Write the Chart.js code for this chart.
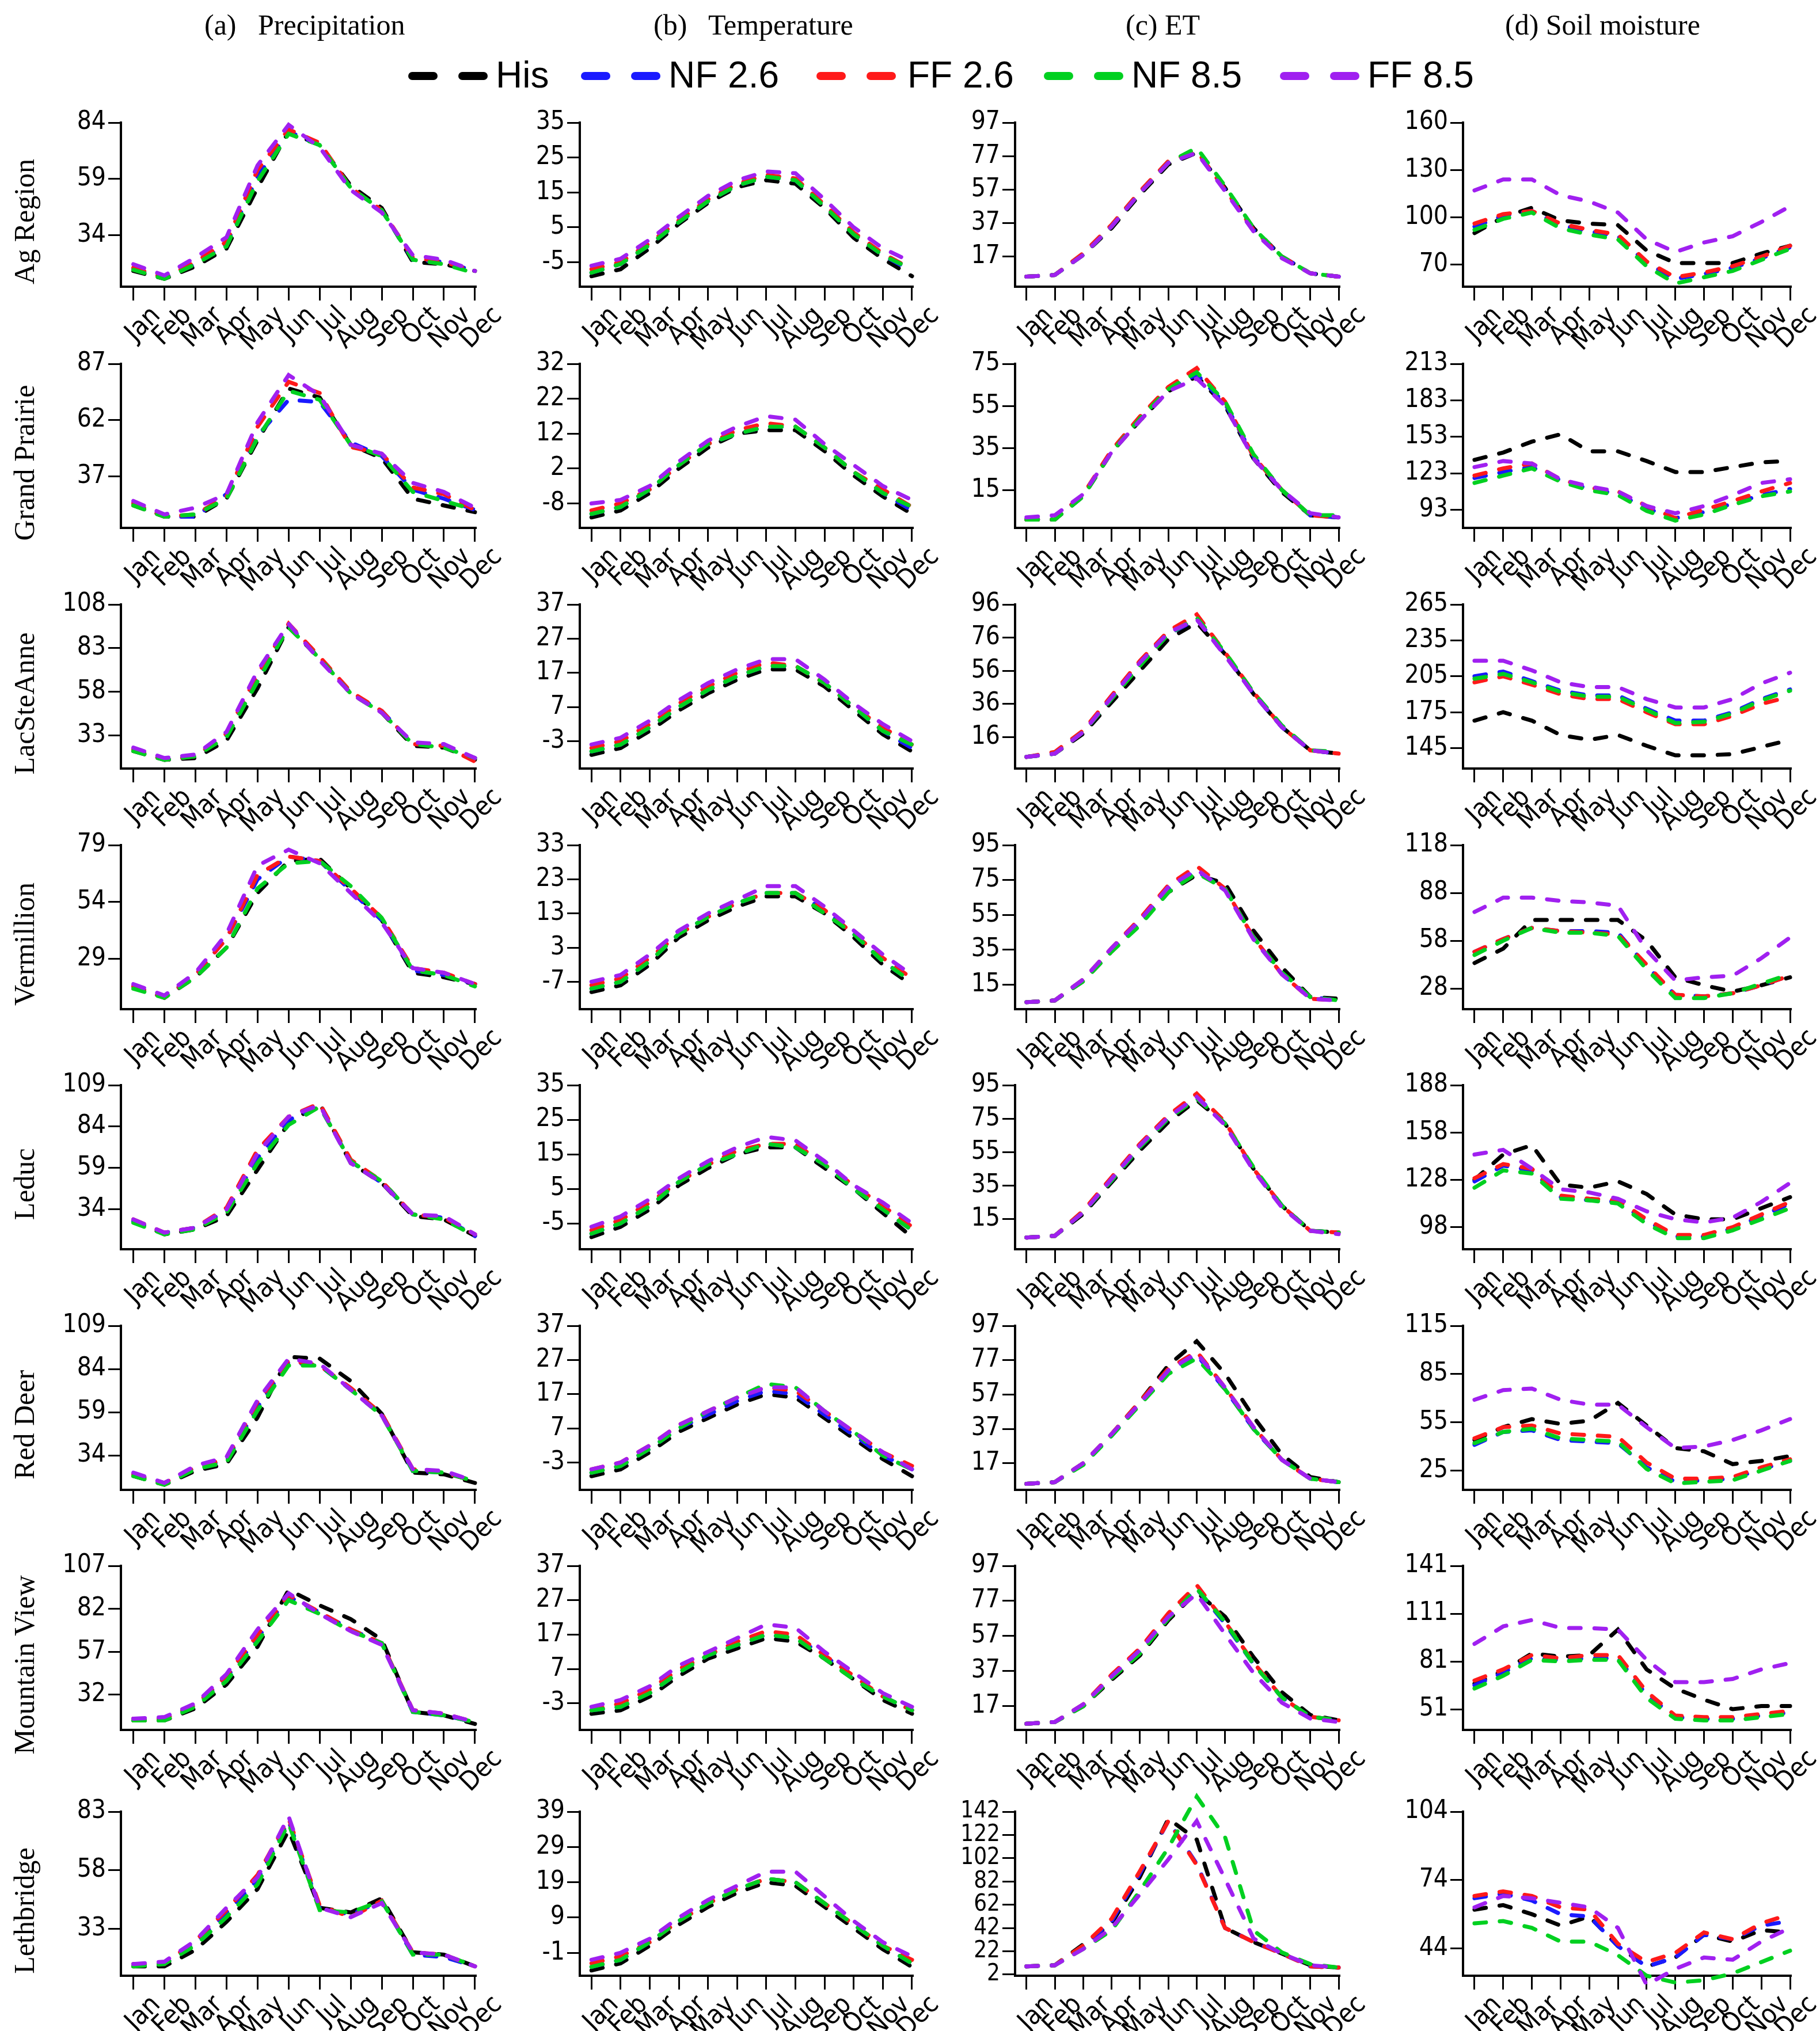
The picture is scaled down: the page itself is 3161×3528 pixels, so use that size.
<!DOCTYPE html>
<html lang="en">
<head>
<meta charset="UTF-8" />
<title>Monthly climate panels</title>
<script src="https://cdn.jsdelivr.net/npm/chart.js"></script>
<style>
  body { margin: 0; background: #fff; width: 3161px; height: 3528px; position: relative; overflow: hidden; }
  .panel { position: absolute; }
  .coltitle { position: absolute; top: 18px; font-family: "Liberation Serif", "DejaVu Serif", serif; font-size: 50px; line-height: 1; white-space: pre; }
  .rowlab { position: absolute; font-family: "Liberation Serif", "DejaVu Serif", serif; font-size: 50px; line-height: 1; white-space: nowrap; transform: translate(-50%, -50%) rotate(-90deg); }
  .legtext { position: absolute; top: 98px; font-family: "Liberation Sans", Arial, sans-serif; font-size: 64px; line-height: 1; white-space: pre; }
  .dash { position: absolute; top: 125px; width: 51px; height: 14px; border-radius: 7px; }
</style>
</head>
<body>
<script>
const months = ["Jan", "Feb", "Mar", "Apr", "May", "Jun", "Jul", "Aug", "Sep", "Oct", "Nov", "Dec"];
const regions = ["Ag Region", "Grand Prairie", "LacSteAnne", "Vermillion", "Leduc", "Red Deer", "Mountain View", "Lethbridge"];
const scenarios = ["His", "NF 2.6", "FF 2.6", "NF 8.5", "FF 8.5"];
const titles = ["(a)   Precipitation", "(b)   Temperature", "(c) ET", "(d) Soil moisture"];

// each panel: [His, NF 2.6, FF 2.6, NF 8.5, FF 8.5]
// (a) precipitation
const precipAg = [
  [18, 14.5, 20, 28, 55, 80, 74, 56, 46, 22, 21, 18],
  [19, 15, 21, 30, 60, 80, 74, 55, 45, 23, 22, 18],
  [19.5, 15, 22, 31, 63, 81, 75, 55, 45, 24, 22, 18],
  [18.5, 14.5, 21, 29, 58, 79, 74, 55, 45, 23, 21, 17],
  [21, 16, 24, 33, 65, 83, 73, 54, 44, 25, 23, 18]];
const precipGP = [
  [24, 19, 19, 27, 53, 76, 72, 51, 45, 27, 24, 21],
  [25, 19, 19, 29, 55, 71, 70, 52, 46, 31, 27, 22],
  [25, 19, 20, 28, 59, 79, 74, 50, 47, 32, 29, 22],
  [24, 19, 20, 27, 54, 75, 71, 51, 46, 30, 26, 22],
  [26, 20, 23, 29, 61, 82, 73, 51, 47, 34, 30, 23]];
const precipLSA = [
  [24, 19, 20, 30, 60, 95, 77, 57, 46, 27, 26, 19],
  [25, 19, 21, 33, 65, 96, 77, 57, 47, 28, 27, 20],
  [25, 19, 21, 34, 68, 97, 78, 58, 47, 28, 27, 18],
  [24, 19, 21, 32, 64, 95, 77, 57, 46, 28, 26, 20],
  [26, 20, 22, 35, 70, 97, 76, 57, 46, 29, 28, 20]];
const precipVer = [
  [17, 12, 21, 34, 58, 72, 73, 60, 46, 23, 21, 18],
  [17, 12, 22, 38, 64, 74, 72, 59, 46, 24, 22, 18],
  [17, 12, 22, 38, 66, 74, 72, 60, 47, 25, 23, 18],
  [16, 12, 21, 34, 60, 71, 72, 61, 47, 24, 22, 17],
  [18, 13, 23, 40, 70, 77, 71, 58, 45, 25, 23, 18]];
const precipLed = [
  [27, 19, 22, 30, 58, 86, 98, 62, 50, 30, 28, 18],
  [27, 20, 23, 33, 65, 88, 96, 63, 50, 31, 29, 18],
  [28, 20, 23, 35, 70, 90, 98, 64, 51, 31, 29, 19],
  [26, 19, 22, 32, 62, 85, 96, 63, 51, 31, 28, 18],
  [28, 20, 23, 34, 68, 90, 97, 62, 50, 31, 30, 19]];
const precipRD = [
  [22, 17, 25, 29, 56, 91, 90, 77, 58, 24, 23, 18],
  [23, 18, 27, 31, 62, 88, 86, 72, 58, 25, 24, 19],
  [23, 18, 27, 32, 65, 89, 86, 73, 58, 26, 24, 19],
  [22, 17, 26, 30, 60, 86, 86, 72, 57, 25, 24, 19],
  [24, 18, 28, 33, 66, 90, 87, 72, 57, 26, 25, 19]];
const precipMV = [
  [17, 17, 24, 38, 60, 93, 84, 76, 64, 22, 20, 15],
  [18, 18, 26, 42, 65, 89, 80, 70, 62, 22, 20, 16],
  [18, 18, 26, 43, 67, 90, 80, 70, 62, 23, 21, 16],
  [17, 17, 25, 40, 63, 87, 79, 69, 62, 22, 20, 16],
  [18, 19, 27, 44, 70, 91, 79, 69, 61, 23, 21, 16]];
const precipLeth = [
  [17, 17, 24, 36, 50, 75, 42, 40, 46, 23, 22, 17],
  [18, 18, 27, 40, 54, 79, 42, 39, 45, 22, 21, 17],
  [18, 18, 28, 41, 56, 80, 43, 38, 45, 23, 22, 17],
  [17, 18, 26, 38, 52, 78, 41, 40, 45, 22, 22, 17],
  [18, 19, 28, 42, 55, 81, 42, 38, 44, 23, 22, 17]];

// (b) temperature
const tempAg = [
  [-9, -7, -1, 6, 12, 16.5, 18.5, 17.5, 10.5, 2, -4, -9],
  [-8, -5.5, 0, 6.5, 12.5, 17, 19.5, 18.5, 11, 3, -3, -7.5],
  [-7, -5, 0.5, 7, 13, 17.5, 20, 19, 11.5, 3.5, -2.5, -7],
  [-8, -5.5, 0, 6.5, 12.5, 17, 19.5, 18.5, 11, 3, -3, -7],
  [-6, -4, 1.5, 8, 14, 18.5, 21, 20.5, 13, 5, -1, -5]];
const tempGP = [
  [-12, -10, -5, 2, 8, 12, 13, 13, 7, 0, -6, -11],
  [-11, -9, -4, 3, 9, 12, 14, 14, 8, 1, -5, -10],
  [-10, -8, -4, 3, 9, 13, 15, 14, 8, 1, -4, -9],
  [-11, -9, -4, 3, 9, 12, 14, 14, 8, 1, -5, -9],
  [-8, -7, -3, 4, 10, 14, 17, 16, 9, 3, -3, -7]];
const tempLSA = [
  [-7, -5, 0, 6, 11, 15, 18, 18, 13, 6, -1, -6],
  [-6, -4, 1, 7, 12, 16, 19, 19, 14, 7, 0, -5],
  [-5, -3, 2, 8, 13, 17, 20, 19, 14, 7, 1, -4],
  [-6, -4, 1, 7, 12, 16, 19, 19, 14, 7, 0, -4],
  [-4, -2, 3, 9, 14, 18, 21, 21, 15, 8, 2, -3]];
const tempVer = [
  [-10, -8, -2, 6, 11, 15, 18, 18, 13, 6, -2, -8],
  [-9, -7, -1, 7, 12, 16, 19, 19, 14, 7, -1, -7],
  [-8, -6, 0, 7, 12, 16, 19, 19, 14, 7, 0, -6],
  [-9, -7, -1, 7, 12, 16, 19, 19, 13, 7, -1, -7],
  [-7, -5, 1, 8, 13, 17, 21, 21, 15, 8, 1, -5]];
const tempLed = [
  [-9, -6, -1, 6, 11, 15, 17, 17, 11, 5, -2, -9],
  [-8, -5, 0, 7, 12, 15, 18, 17, 12, 5, -1, -7],
  [-7, -4, 1, 7, 12, 16, 18, 18, 12, 6, 0, -6],
  [-8, -5, 0, 7, 12, 15, 18, 17, 12, 5, -1, -7],
  [-6, -3, 2, 8, 13, 17, 20, 19, 13, 6, 1, -5]];
const tempRD = [
  [-7, -5, 0, 6, 10, 14, 17, 16, 10, 4, -2, -7],
  [-6, -4, 1, 7, 11, 15, 18, 17, 11, 5, -1, -5],
  [-5, -3, 2, 8, 12, 16, 19, 18, 12, 6, 0, -4],
  [-6, -4, 1, 7, 12, 16, 20, 19, 12, 6, -1, -5],
  [-5, -3, 2, 8, 12, 16, 19, 19, 12, 6, 0, -5]];
const tempMV = [
  [-6, -5, -1, 5, 10, 13, 16, 15, 10, 4, -2, -6],
  [-5, -4, 0, 6, 11, 14, 17, 16, 11, 4, -1, -5],
  [-5, -3, 1, 7, 11, 15, 18, 17, 11, 5, -1, -5],
  [-5, -4, 0, 6, 11, 14, 17, 16, 10, 4, -1, -5],
  [-4, -2, 2, 8, 12, 16, 20, 19, 12, 6, 0, -4]];
const tempLeth = [
  [-6, -4, 1, 7, 12, 16, 19, 18, 12, 6, 0, -5],
  [-5, -3, 2, 8, 13, 17, 20, 19, 13, 7, 1, -4],
  [-4, -2, 2, 8, 13, 17, 20, 19, 13, 7, 1, -3],
  [-5, -3, 2, 8, 13, 17, 20, 19, 13, 7, 1, -4],
  [-3, -1, 3, 9, 14, 18, 22, 22, 15, 8, 2, -2]];

// (c) ET
const etAg = [
  [5, 6, 18, 34, 54, 72, 79, 58, 34, 17, 7, 5],
  [5, 6, 18, 35, 55, 73, 79, 57, 33, 17, 7, 5],
  [5, 6, 19, 36, 56, 74, 80, 57, 33, 17, 7, 5],
  [5, 6, 18, 35, 55, 73, 82, 59, 34, 17, 7, 5],
  [5, 6, 18, 35, 55, 73, 79, 56, 32, 16, 7, 5]];
const etGP = [
  [1, 1, 12, 33, 48, 62, 69, 55, 30, 14, 3, 2],
  [1, 1, 13, 33, 49, 63, 70, 56, 31, 15, 3, 2],
  [1, 1, 13, 34, 50, 64, 73, 57, 31, 15, 3, 2],
  [1, 1, 12, 33, 49, 63, 71, 57, 32, 15, 3, 3],
  [2, 3, 13, 33, 48, 62, 68, 55, 30, 15, 4, 2]];
const etLSA = [
  [4, 6, 18, 37, 56, 75, 85, 66, 42, 22, 8, 6],
  [4, 6, 19, 39, 60, 78, 87, 66, 42, 22, 8, 6],
  [4, 7, 20, 41, 62, 80, 90, 67, 43, 22, 8, 6],
  [4, 6, 19, 39, 59, 78, 88, 67, 43, 23, 8, 7],
  [4, 6, 19, 40, 61, 79, 87, 65, 42, 22, 8, 6]];
const etVer = [
  [5, 6, 17, 34, 50, 68, 78, 73, 46, 25, 8, 7],
  [5, 6, 18, 35, 51, 70, 80, 70, 42, 21, 8, 6],
  [5, 6, 18, 36, 53, 72, 83, 70, 42, 21, 7, 6],
  [5, 6, 17, 34, 49, 68, 79, 70, 42, 22, 8, 6],
  [5, 6, 18, 36, 52, 71, 81, 69, 41, 21, 7, 6]];
const etLed = [
  [4, 5, 18, 37, 56, 73, 86, 72, 45, 23, 8, 7],
  [4, 5, 19, 38, 58, 75, 88, 72, 45, 23, 8, 7],
  [4, 5, 20, 40, 60, 77, 90, 73, 45, 23, 8, 7],
  [4, 5, 19, 38, 58, 75, 87, 72, 46, 23, 8, 7],
  [4, 5, 19, 39, 59, 76, 88, 71, 44, 22, 8, 6]];
const etRD = [
  [5, 6, 17, 34, 53, 74, 88, 69, 44, 22, 9, 6],
  [5, 6, 17, 33, 52, 71, 80, 60, 37, 19, 8, 6],
  [5, 6, 17, 34, 53, 72, 82, 61, 38, 19, 8, 6],
  [5, 6, 16, 33, 51, 69, 78, 60, 37, 19, 8, 6],
  [5, 6, 17, 34, 52, 71, 81, 61, 38, 19, 8, 6]];
const etMV = [
  [7, 8, 17, 32, 46, 66, 82, 68, 45, 25, 12, 9],
  [7, 8, 18, 34, 48, 68, 84, 64, 41, 22, 11, 9],
  [7, 8, 18, 35, 50, 70, 86, 65, 42, 22, 11, 9],
  [7, 8, 17, 33, 47, 67, 84, 65, 41, 22, 11, 9],
  [7, 8, 18, 34, 49, 68, 81, 58, 36, 19, 10, 8]];
const etLeth = [
  [9, 10, 28, 46, 86, 136, 118, 42, 30, 20, 10, 8],
  [9, 10, 26, 48, 89, 134, 97, 42, 30, 20, 9, 8],
  [9, 10, 27, 50, 91, 134, 96, 42, 30, 20, 9, 8],
  [9, 10, 24, 40, 74, 111, 155, 120, 40, 21, 11, 8],
  [9, 10, 24, 42, 71, 101, 134, 84, 33, 20, 10, 8]];

// (d) soil moisture
const smAg = [
  [90, 100, 106, 98, 96, 95, 79, 71, 71, 71, 77, 82],
  [94, 101, 104, 95, 91, 88, 71, 61, 64, 68, 74, 81],
  [96, 102, 104, 96, 92, 89, 72, 62, 65, 69, 75, 82],
  [92, 99, 103, 93, 89, 86, 69, 58, 62, 66, 73, 80],
  [117, 124, 124, 114, 110, 103, 86, 78, 84, 88, 97, 107]];
const smGP = [
  [134, 140, 149, 155, 141, 141, 133, 124, 124, 128, 132, 133],
  [119, 124, 128, 117, 110, 106, 94, 86, 91, 98, 105, 110],
  [121, 127, 131, 118, 111, 108, 96, 86, 93, 100, 108, 115],
  [115, 121, 127, 116, 109, 105, 92, 84, 89, 97, 104, 108],
  [128, 133, 131, 118, 112, 108, 96, 90, 96, 105, 115, 118]];
const smLSA = [
  [168, 175, 168, 156, 152, 156, 147, 139, 139, 140, 146, 152],
  [205, 209, 201, 193, 189, 189, 178, 168, 168, 175, 186, 194],
  [200, 205, 198, 190, 186, 186, 175, 165, 165, 172, 182, 188],
  [203, 207, 200, 192, 188, 188, 177, 166, 167, 174, 185, 193],
  [218, 218, 210, 200, 196, 196, 186, 179, 179, 186, 199, 208]];
const smVer = [
  [44, 53, 71, 71, 71, 71, 58, 35, 30, 26, 30, 35],
  [51, 59, 66, 64, 64, 63, 42, 24, 23, 25, 30, 36],
  [51, 59, 66, 64, 63, 62, 43, 24, 23, 25, 30, 36],
  [49, 58, 66, 63, 63, 61, 40, 22, 22, 25, 31, 37],
  [76, 85, 85, 83, 82, 80, 52, 33, 35, 36, 47, 60]];
const smLed = [
  [128, 144, 150, 125, 123, 127, 119, 106, 103, 103, 110, 117],
  [127, 137, 134, 117, 115, 114, 102, 92, 92, 97, 105, 113],
  [129, 138, 135, 118, 116, 115, 103, 93, 93, 98, 106, 114],
  [123, 134, 132, 116, 115, 113, 100, 91, 91, 96, 103, 110],
  [144, 147, 135, 122, 120, 116, 108, 103, 101, 104, 114, 126]];
const smRD = [
  [44, 52, 57, 54, 56, 67, 53, 39, 37, 29, 31, 34],
  [41, 49, 50, 44, 43, 42, 27, 18, 19, 20, 26, 31],
  [45, 52, 53, 48, 47, 46, 30, 20, 20, 21, 27, 32],
  [42, 49, 51, 45, 44, 43, 26, 17, 18, 19, 25, 31],
  [69, 75, 76, 69, 66, 66, 52, 39, 40, 44, 50, 57]];
const smMV = [
  [67, 75, 86, 84, 85, 101, 76, 64, 57, 51, 53, 53],
  [66, 74, 83, 82, 83, 83, 60, 46, 45, 45, 47, 49],
  [69, 76, 85, 83, 85, 85, 62, 47, 46, 46, 48, 50],
  [64, 72, 82, 81, 82, 82, 58, 45, 44, 44, 46, 48],
  [92, 103, 107, 102, 102, 101, 82, 68, 68, 70, 76, 80]];
const smLeth = [
  [61, 63, 59, 54, 58, 45, 36, 40, 50, 47, 52, 51],
  [66, 68, 65, 59, 58, 45, 36, 40, 50, 48, 54, 56],
  [67, 69, 67, 62, 61, 46, 38, 42, 51, 48, 55, 59],
  [55, 56, 53, 47, 47, 41, 32, 29, 30, 33, 38, 43],
  [62, 67, 66, 64, 62, 53, 28, 35, 40, 39, 47, 53]];

// axis ticks and lower limits, one entry per region
const precipTicks = [[84, 59, 34], [87, 62, 37], [108, 83, 58, 33], [79, 54, 29], [109, 84, 59, 34], [109, 84, 59, 34], [107, 82, 57, 32], [83, 58, 33]];
const precipMin = [11, 14, 14, 7, 10, 14, 11.5, 13];
const tempTicks = [[35, 25, 15, 5, -5], [32, 22, 12, 2, -8], [37, 27, 17, 7, -3], [33, 23, 13, 3, -7], [35, 25, 15, 5, -5], [37, 27, 17, 7, -3], [37, 27, 17, 7, -3], [39, 29, 19, 9, -1]];
const tempMin = [-12, -15, -11, -15, -12.5, -11, -10.7, -7.5];
const etTicks = [[97, 77, 57, 37, 17], [75, 55, 35, 15], [96, 76, 56, 36, 16], [95, 75, 55, 35, 15], [95, 75, 55, 35, 15], [97, 77, 57, 37, 17], [97, 77, 57, 37, 17], [142, 122, 102, 82, 62, 42, 22, 2]];
const etMin = [-1, -3, -3, 1, -3, 1.5, 3.5, 1];
const smTicks = [[160, 130, 100, 70], [213, 183, 153, 123, 93], [265, 235, 205, 175, 145], [118, 88, 58, 28], [188, 158, 128, 98], [115, 85, 55, 25], [141, 111, 81, 51], [104, 74, 44]];
const smMin = [56, 78, 128, 15, 84, 13, 38, 32];

const columns = [
  { series: [precipAg, precipGP, precipLSA, precipVer, precipLed, precipRD, precipMV, precipLeth], ticks: precipTicks, min: precipMin },
  { series: [tempAg, tempGP, tempLSA, tempVer, tempLed, tempRD, tempMV, tempLeth], ticks: tempTicks, min: tempMin },
  { series: [etAg, etGP, etLSA, etVer, etLed, etRD, etMV, etLeth], ticks: etTicks, min: etMin },
  { series: [smAg, smGP, smLSA, smVer, smLed, smRD, smMV, smLeth], ticks: smTicks, min: smMin }
];

const colors = ["#000000", "#1a1aff", "#ff1a1a", "#00d020", "#a020f0"];

// layout (page pixels)
const rowTop = [213, 632, 1050, 1468, 1885, 2303, 2720, 3147];
const colLeft = [210, 1007, 1763, 2541];
const colRight = [826, 1585, 2326, 3110];
const plotH = 285, yW = 130, xH = 150, padT = 45, padR = 50;
const tickFont = '"Liberation Sans Narrow", "DejaVu Sans Condensed", "Liberation Sans", sans-serif';

Chart.defaults.font.family = tickFont;
Chart.defaults.color = "#000";

function makePanel(r, c) {
  const col = columns[c];
  const ticks = col.ticks[r];
  const w = yW + (colRight[c] - colLeft[c]) + padR;
  const h = padT + plotH + xH;
  const div = document.createElement("div");
  div.className = "panel";
  div.style.left = (colLeft[c] - yW) + "px";
  div.style.top = (rowTop[r] - padT) + "px";
  div.style.width = w + "px";
  div.style.height = h + "px";
  const cv = document.createElement("canvas");
  cv.width = w; cv.height = h;
  div.appendChild(cv);
  document.body.appendChild(div);

  new Chart(cv, {
    type: "line",
    data: {
      datasets: col.series[r].map((vals, i) => ({
        label: scenarios[i],
        data: vals.map((v, k) => ({ x: k + 1, y: v })),
        order: scenarios.length - i,   // later scenarios drawn on top
        borderColor: colors[i],
        borderWidth: 7,
        borderDash: [20, 24],
        borderCapStyle: "round",
        pointRadius: 0,
        tension: 0,
        fill: false,
        clip: false
      }))
    },
    options: {
      responsive: false,
      animation: false,
      layout: { padding: { top: padT, right: padR, left: 0, bottom: 0 } },
      plugins: { legend: { display: false }, tooltip: { enabled: false } },
      scales: {
        x: {
          type: "linear", min: 0.6, max: 12.02,
          afterBuildTicks: s => { s.ticks = months.map((m, i) => ({ value: i + 1 })); },
          afterFit: s => { s.height = xH; s.paddingLeft = 0; s.paddingRight = 0; },
          ticks: { autoSkip: false, minRotation: 45, maxRotation: 45, labelOffset: 40, padding: 0,
                   font: { size: 46 }, callback: v => months[v - 1] },
          grid: { display: true, drawOnChartArea: false, drawTicks: true, tickLength: 24, color: "#000", lineWidth: 3 },
          border: { display: true, color: "#000", width: 4 }
        },
        y: {
          type: "linear", min: col.min[r], max: ticks[0],
          afterBuildTicks: s => { s.ticks = ticks.map(v => ({ value: v })); },
          afterFit: s => { s.width = yW; s.paddingTop = 0; s.paddingBottom = 0; },
          ticks: { autoSkip: false, padding: 4, font: { size: ticks.length > 5 ? 40 : 44 }, callback: v => String(v) },
          grid: { display: true, drawOnChartArea: false, drawTicks: true, tickLength: 22, color: "#000", lineWidth: 3 },
          border: { display: true, color: "#000", width: 4 }
        }
      }
    }
  });
}

// column titles
const titleX = [355, 1135, 1955, 2614];
titles.forEach((t, i) => {
  const d = document.createElement("div");
  d.className = "coltitle";
  d.style.left = titleX[i] + "px";
  d.textContent = t;
  document.body.appendChild(d);
});

// legend
const dashX = [709, 1009, 1418, 1813, 2223];
const textX = [861, 1161, 1576, 1965, 2375];
scenarios.forEach((s, i) => {
  [0, 87].forEach(off => {
    const d = document.createElement("div");
    d.className = "dash";
    d.style.left = (dashX[i] + off) + "px";
    d.style.background = colors[i];
    document.body.appendChild(d);
  });
  const t = document.createElement("div");
  t.className = "legtext";
  t.style.left = textX[i] + "px";
  t.textContent = s;
  document.body.appendChild(t);
});

// row labels
regions.forEach((name, r) => {
  const d = document.createElement("div");
  d.className = "rowlab";
  d.style.left = "42px";
  d.style.top = (rowTop[r] + 172) + "px";
  d.textContent = name;
  document.body.appendChild(d);
});

for (let r = 0; r < regions.length; r++) {
  for (let c = 0; c < columns.length; c++) makePanel(r, c);
}
</script>
</body>
</html>
